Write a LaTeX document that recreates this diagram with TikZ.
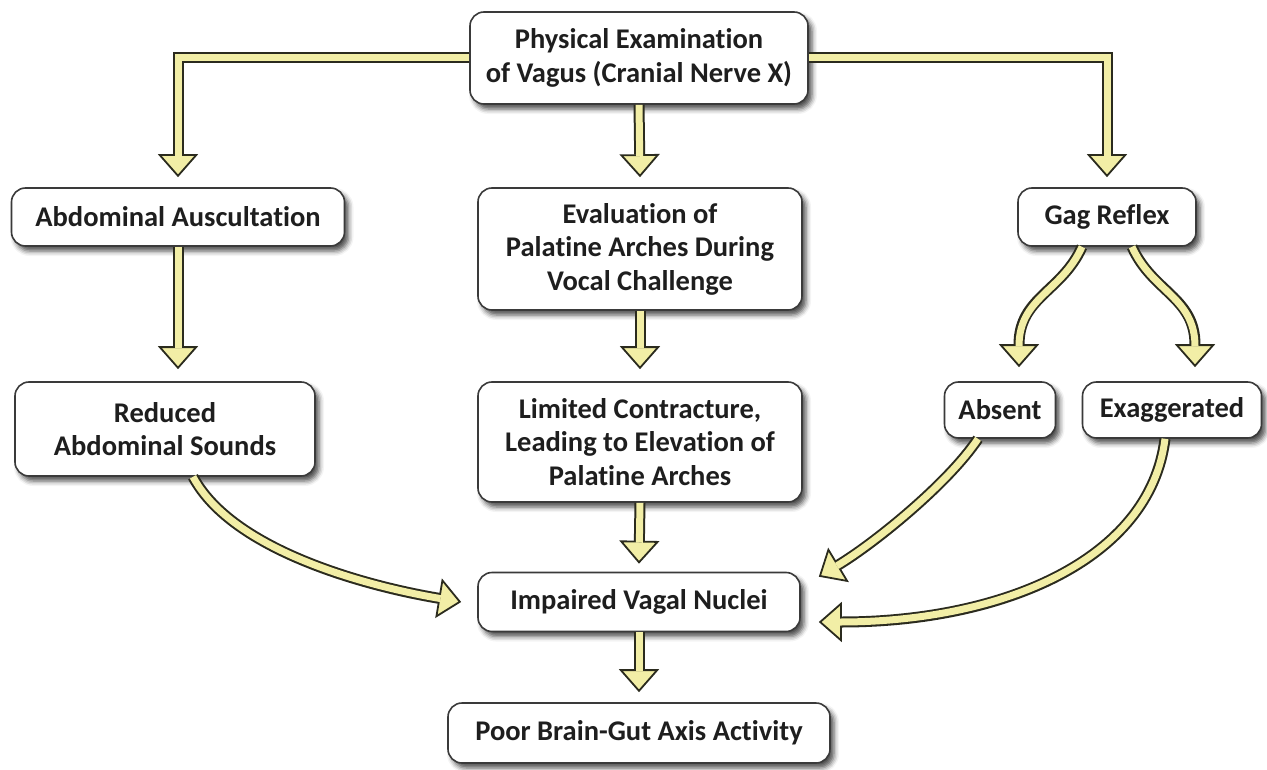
\documentclass[tikz,border=0pt]{standalone}
\usepackage{fontspec}
\setmainfont{Carlito}[Ligatures=NoCommon]
\usetikzlibrary{arrows.meta,shadows.blur,calc}
\definecolor{flowfill}{HTML}{F2EEA6}
\definecolor{flowedge}{HTML}{2B2B1E}
\definecolor{boxedge}{HTML}{3A3A3A}
\definecolor{ink}{HTML}{1E1E1E}

\tikzset{
  box/.style={draw=boxedge, line width=1.6bp, rounded corners=14bp, fill=white,
    align=center, text=ink, inner sep=0pt,
    font=\fontsize{28.5bp}{33.5bp}\selectfont\bfseries,
    blur shadow={shadow xshift=4bp, shadow yshift=-5bp,
      shadow blur radius=5bp, shadow opacity=70}},
  flowout/.style={draw=flowedge, line width=11bp,
    -{Triangle[width=40bp, length=23bp, line width=1.8bp, fill=flowfill]}},
  flowin/.style={draw=flowfill, line width=7bp, shorten >=21bp},
}
% hollow yellow arrow: dark outer stroke with head, then pale core
\newcommand\flow[1]{\draw[flowout] #1; \draw[flowin] #1;}

\begin{document}
\begin{tikzpicture}[x=1bp, y=-1bp]
\useasboundingbox (0,0) rectangle (1267,770);

% boxes
\node[box, minimum width=338bp, minimum height=92bp] (exam) at (639,58)
  {Physical Examination\\of Vagus (Cranial Nerve X)};
\node[box, minimum width=333bp, minimum height=58bp] (abd) at (178,217)
  {Abdominal Auscultation};
\node[box, minimum width=324bp, minimum height=122bp] (eval) at (640,249)
  {Evaluation of\\Palatine Arches During\\Vocal Challenge};
\node[box, minimum width=178bp, minimum height=58bp] (gag) at (1107,217)
  {Gag Reflex};
\node[box, minimum width=300bp, minimum height=94bp] (red) at (165,429)
  {Reduced\\Abdominal Sounds};
\node[box, minimum width=324bp, minimum height=120bp] (lim) at (640,442)
  {Limited Contracture,\\Leading to Elevation of\\Palatine Arches};
\node[box, minimum width=111bp, minimum height=56bp] (abs) at (1000,410)
  {Absent};
\node[box, minimum width=179bp, minimum height=56bp] (exag) at (1172,410)
  {Exaggerated};
\node[box, minimum width=322bp, minimum height=59bp] (imp) at (639,602)
  {Impaired Vagal Nuclei};
\node[box, minimum width=382bp, minimum height=60bp] (poor) at (639,733)
  {Poor Brain-Gut Axis Activity};

\coordinate (abdred) at (abd.south |- red.north);

% connectors
\flow{(exam.west) -| ([yshift=10bp]abd.north)}
\flow{(exam.east) -| ([yshift=10bp]gag.north)}
\flow{(exam.south) -- ([yshift=10bp]eval.north)}
\flow{(abd.south) -- ([yshift=12bp]abdred)}
\flow{(eval.south) -- ([yshift=12bp]lim.north)}
\flow{(lim.south) -- ([yshift=8bp]imp.north)}
\flow{(imp.south) -- ([yshift=10bp]poor.north)}

\flow{([xshift=-25bp]gag.south) .. controls +(-20,45) and +(0,-70) .. ([xshift=19bp,yshift=14bp]abs.north)}
\flow{([xshift=25bp]gag.south) .. controls +(20,45) and +(0,-70) .. ([xshift=23bp,yshift=14bp]exag.north)}

\flow{([xshift=-22bp]abs.south) .. controls +(-30,45) and +(55,-33) .. ([xshift=18bp,yshift=-5bp]imp.north east)}
\flow{([xshift=-7bp]exag.south) .. controls +(-15,122) and +(182,0) .. ([xshift=18bp,yshift=-20bp]imp.east)}
\flow{([xshift=28bp]red.south) .. controls +(40,75) and +(-90,-15) .. ([xshift=-16bp]imp.west)}

\end{tikzpicture}
\end{document}
